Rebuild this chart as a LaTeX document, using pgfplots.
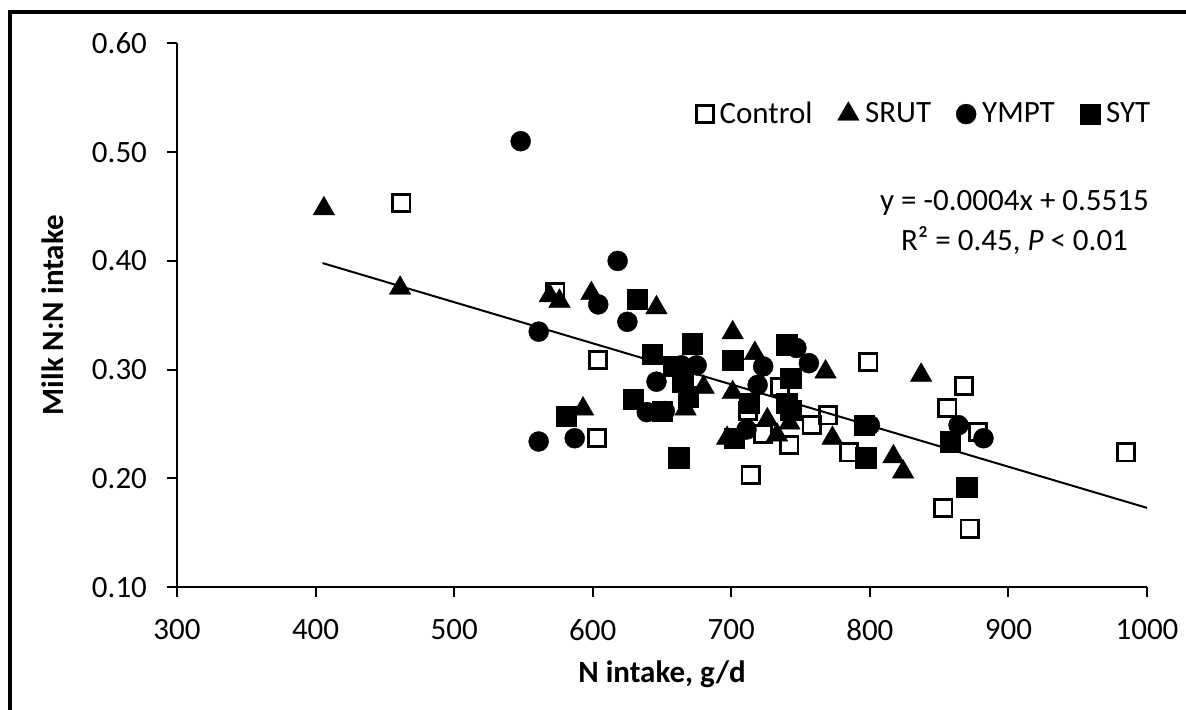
\documentclass[border=0pt]{standalone}
\usepackage{fontspec}
\setmainfont{Carlito}
\usepackage{pgfplots}
\pgfplotsset{compat=1.18}
\newcommand{\fs}{\fontsize{15.5}{18}\selectfont}
\begin{document}
\begin{tikzpicture}
\begin{axis}[
  at={(0pt,0pt)}, anchor=south west,
  width=485pt, height=272pt, scale only axis,
  xmin=300, xmax=1000, ymin=0.1, ymax=0.6,
  xtick={300,400,...,1000}, ytick={0.1,0.2,0.3,0.4,0.5,0.6},
  axis x line*=bottom, axis y line*=left,
  axis line style={-, line width=1pt},
  tick pos=left, tick align=outside, major tick length=5pt,
  tick style={black, line width=1pt},
  /pgf/number format/assume math mode=true,
  tick label style={font=\fs},
  xticklabel style={yshift=-7.5pt, /pgf/number format/set thousands separator={}},
  yticklabel style={xshift=-6.5pt, /pgf/number format/.cd, fixed, fixed zerofill, precision=2},
  xlabel={N intake, g/d}, ylabel={Milk N:N intake},
  label style={font=\fs\bfseries},
  xlabel style={at={(axis description cs:0.5,-0.1743)}, anchor=base},
  ylabel style={at={(axis description cs:-0.1175,0.5)}, anchor=base},
  legend columns=4,
  legend style={draw=none, fill=none, font=\fs, at={(1.01,0.87)}, anchor=east,
    nodes={inner sep=0pt},
    /tikz/every odd column/.append style={column sep=3pt},
    /tikz/every even column/.append style={column sep=12.5pt}},
  legend image code/.code={\draw[#1] plot coordinates {(0pt,0pt)};},
]
% Control
\addplot[only marks, mark=square, mark size=4.3pt, mark options={draw=black, fill=white, line width=1.4pt}]
coordinates {
(462,0.453) (573,0.371) (604,0.309) (603,0.237) (714,0.203) (712,0.262)
(735,0.284) (723,0.241) (742,0.231) (758,0.249) (770,0.258) (785,0.224)
(799,0.307) (856,0.265) (868,0.285) (878,0.243) (853,0.173) (872,0.154)
(985,0.224)
};
\addlegendentry{Control}
% SRUT
\addplot[only marks, mark=triangle*, mark size=6.2pt, mark options={draw=black, fill=black, line width=0.2pt}]
coordinates {
(406,0.448) (461,0.375) (569,0.368) (576,0.363) (599,0.370) (593,0.264)
(646,0.357) (667,0.264) (680,0.284) (701,0.334) (701,0.279) (697,0.237)
(717,0.315) (726,0.254) (733,0.240) (742,0.251) (768,0.298) (773,0.237)
(817,0.220) (824,0.206) (837,0.295)
};
\addlegendentry{SRUT}
% YMPT
\addplot[only marks, mark=*, mark size=5pt, mark options={draw=black, fill=black, line width=0.2pt}]
coordinates {
(548,0.510) (618,0.400) (561,0.335) (604,0.360) (625,0.344) (561,0.234)
(587,0.237) (646,0.289) (639,0.261) (652,0.262) (664,0.304) (675,0.304)
(711,0.245) (719,0.286) (723,0.303) (747,0.320) (756,0.306) (800,0.249)
(864,0.249) (882,0.237)
};
\addlegendentry{YMPT}
% SYT
\addplot[only marks, mark=square*, mark size=5.1pt, mark options={draw=black, fill=black, line width=0.2pt}]
coordinates {
(632,0.365) (643,0.314) (629,0.273) (581,0.257) (650,0.262) (658,0.303)
(665,0.289) (669,0.275) (672,0.324) (662,0.219) (701,0.309) (702,0.237)
(713,0.269) (740,0.323) (743,0.292) (740,0.269) (743,0.263) (796,0.249)
(797,0.219) (858,0.234) (870,0.192)
};
\addlegendentry{SYT}
% trendline
\addplot[black, line width=1pt, forget plot] coordinates {(405,0.398) (1000,0.173)};
\end{axis}
\node[anchor=base, font=\fs] at (418.75pt,188.6pt) {y = -0.0004x + 0.5515};
\node[anchor=base, font=\fs] at (418.75pt,168.6pt) {R² = 0.45, \textit{P} < 0.01};
\draw[line width=2pt] (-83.5pt,-62pt) -- (-83.5pt,287.65pt) -- (505pt,287.65pt);
\pgfresetboundingbox
\path[use as bounding box] (-88.5pt,-61.35pt) rectangle (504.5pt,293.65pt);
\end{tikzpicture}
\end{document}
